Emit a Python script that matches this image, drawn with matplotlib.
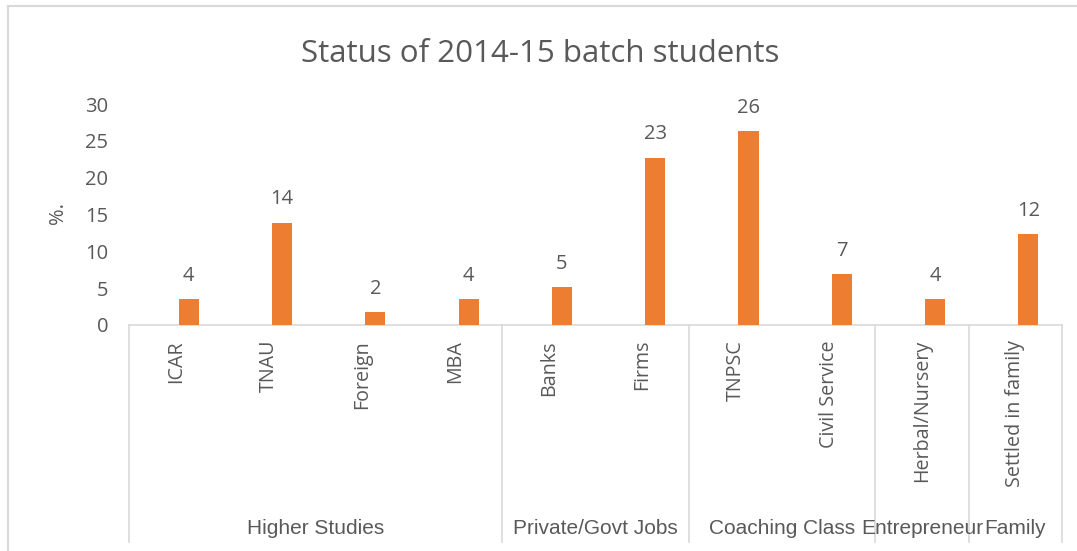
"""Status of 2014-15 batch students - grouped category bar chart."""
import matplotlib

matplotlib.use("Agg")
import matplotlib.pyplot as plt
from matplotlib.lines import Line2D
from matplotlib.transforms import blended_transform_factory


categories = [
    "ICAR", "TNAU", "Foreign", "MBA", "Banks", "Firms",
    "TNPSC", "Civil Service", "Herbal/Nursery", "Settled in family",
]
values = [3.5, 13.9, 1.7, 3.5, 5.1, 22.7, 26.3, 6.9, 3.5, 12.3]
group_names = ["Higher Studies", "Private/Govt Jobs", "Coaching Class", "Entrepreneur", "Family"]
group_sizes = [4, 2, 2, 1, 1]
y_ticks = [0, 5, 10, 15, 20, 25, 30]

BAR_COLOR = "#ED7D31"
TEXT_COLOR = "#595959"
LINE_COLOR = "#D9D9D9"
W, H = 1077, 551


def fy(py):
    return 1 - py / H


def fx(px):
    return px / W


fig = plt.figure(figsize=(W / 100, H / 100), dpi=100)
ax = fig.add_axes([fx(129), fy(325), fx(1062) - fx(129), fy(104) - fy(325)])

# bars sit a little right of the category centres in the reference
offset = 0.14
xs = [i + offset for i in range(len(categories))]
ax.bar(xs, values, width=0.215, color=BAR_COLOR, zorder=3)
for x, v in zip(xs, values):
    ax.annotate(f"{v:.0f}", (x, v), xytext=(0, 17), textcoords="offset points",
                ha="center", va="center", fontsize=14.5, color=TEXT_COLOR,
                family="Open Sans")

ax.set_xlim(-0.5, len(categories) - 0.5)
ax.set_ylim(0, 30)
ax.set_yticks(y_ticks)
ax.set_yticklabels([str(t) for t in y_ticks], fontsize=14.5, color=TEXT_COLOR,
                   family="Open Sans")
ax.tick_params(axis="y", length=0, pad=15)
ax.set_xticks([])
for side in ("left", "right", "top"):
    ax.spines[side].set_visible(False)
ax.spines["bottom"].set_color(LINE_COLOR)
ax.spines["bottom"].set_linewidth(1.2)

fig.text(fx(58), fy(213), "%.", rotation=90, ha="center", va="center",
         fontsize=14.5, color=TEXT_COLOR, family="Open Sans")

fig.text(fx(540), fy(62), "Status of 2014-15 batch students", ha="center",
         va="baseline", fontsize=22.5, color=TEXT_COLOR, family="Open Sans")

trans = blended_transform_factory(ax.transData, fig.transFigure)
for i, name in enumerate(categories):
    ax.text(i, fy(340), name, rotation=90, ha="center", va="top", fontsize=14.2,
            color=TEXT_COLOR, family="Open Sans", transform=trans)

# group separators and labels
start = -0.5
bounds = [start]
for size in group_sizes:
    bounds.append(bounds[-1] + size)
for b in bounds:
    ax.add_line(Line2D([b, b], [fy(325), fy(542)], color=LINE_COLOR, lw=1.2,
                       transform=trans, clip_on=False))
for name, lo, hi in zip(group_names, bounds[:-1], bounds[1:]):
    ax.text((lo + hi) / 2, fy(534), name, ha="center", va="baseline", fontsize=15,
            color=TEXT_COLOR, family="Liberation Sans", transform=trans)

# chart frame (only top and left edges fall inside the picture)
fig.add_artist(Line2D([fx(8), fx(8)], [fy(6), 0], color=LINE_COLOR, lw=1.5))
fig.add_artist(Line2D([fx(8), 1], [fy(6), fy(6)], color=LINE_COLOR, lw=1.5))

fig.savefig("out.png", dpi=100, facecolor="white")
